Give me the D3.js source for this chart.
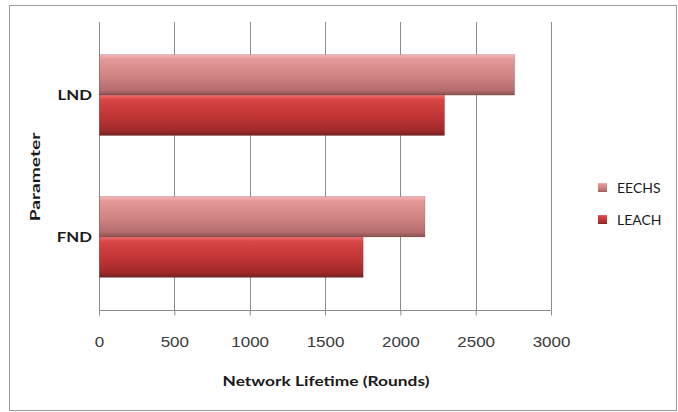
<!DOCTYPE html>
<html>
<head>
<meta charset="utf-8">
<script src="https://cdn.jsdelivr.net/npm/d3@7"></script>
<style>
	body { margin: 0; background: #fff; }
	svg { font-family: Lato, "Open Sans", sans-serif; }
	.grid line { stroke: #8c8c8c; stroke-width: 1; }
	.axis path, .axis line { stroke: #8c8c8c; }
	.axis text { fill: #3a3a3a; font-size: 14.5px; }
</style>
</head>
<body>
<div id="chart"></div>
<script>
let categories	= ["LND", "FND"];
let seriesNames	= ["EECHS", "LEACH"];
let eechs		= [2755, 2160];
let leach		= [2290, 1750];
let xTicks		= [0, 500, 1000, 1500, 2000, 2500, 3000];

let canvasWidth		= 678;
let canvasHeight	= 412;
let margin			= { top: 22, right: 127, bottom: 102, left: 99 };
let width			= canvasWidth - margin.left - margin.right;
let height			= canvasHeight - margin.top - margin.bottom;

let data = categories.map((c, i) => ({ cat: c, values: [eechs[i], leach[i]] }));

let x	= d3.scaleLinear().range([0, width]).domain([0, 3000]);
let y	= d3.scaleBand().range([0, height]).domain(categories).paddingInner(0.43).paddingOuter(0.23);
let ys	= d3.scaleBand().range([0, y.bandwidth()]).domain(seriesNames);

let root = d3.select("#chart").append("svg")
	.attr("width", canvasWidth)
	.attr("height", canvasHeight);

// gradients for the bevelled bars
let defs = root.append("defs");
let gradStops = {
	EECHS: [["0%", "#f6b4b4"], ["12%", "#e49898"], ["55%", "#cf8282"], ["88%", "#b56d6d"], ["100%", "#8a5050"]],
	LEACH: [["0%", "#f07070"], ["12%", "#d84444"], ["55%", "#c03434"], ["88%", "#a02a2a"], ["100%", "#722020"]]
};
seriesNames.forEach((s) => {
	let g = defs.append("linearGradient").attr("id", "grad-" + s).attr("x1", 0).attr("y1", 0).attr("x2", 0).attr("y2", 1);
	gradStops[s].forEach((st) => g.append("stop").attr("offset", st[0]).attr("stop-color", st[1]));
});

root.append("rect")
	.attr("x", 9.5).attr("y", 5.5)
	.attr("width", canvasWidth - 11).attr("height", canvasHeight - 7)
	.attr("fill", "none").attr("stroke", "#9a9a9a");

let svg = root.append("g")
	.attr("transform", "translate(" + margin.left + "," + margin.top + ")");

svg.append("g")
	.attr("class", "grid")
	.selectAll("line")
	.data(xTicks)
	.enter().append("line")
		.attr("x1", (o) => Math.round(x(o)) + 0.5)
		.attr("x2", (o) => Math.round(x(o)) + 0.5)
		.attr("y1", 0)
		.attr("y2", height);

let xAxis = svg.append("g")
	.attr("class", "x axis")
	.attr("transform", "translate(0," + (height + 0.5) + ")")
	.call(d3.axisBottom(x).tickValues(xTicks).tickSize(5).tickSizeOuter(0).tickPadding(21).tickFormat(d3.format("d")));
xAxis.select(".domain").attr("d", "M0.5,0H" + (width + 0.5));
// the picture's glyphs are a bit wider than the font's
xAxis.selectAll(".tick text").attr("transform", "scale(1.17,1)");

let groups = svg.selectAll(".cat")
	.data(data)
	.enter().append("g")
		.attr("class", "cat")
		.attr("transform", (o) => "translate(0," + y(o.cat) + ")");

groups.selectAll("rect")
	.data((o) => o.values.map((v, i) => ({ s: seriesNames[i], v: v })))
	.enter().append("rect")
		.attr("x", 0.5)
		.attr("y", (o) => ys(o.s))
		.attr("width", (o) => x(o.v))
		.attr("height", ys.bandwidth())
		.attr("fill", (o) => "url(#grad-" + o.s + ")")
		.attr("stroke", "rgba(90,40,40,0.35)")
		.attr("stroke-width", 0.6);

svg.selectAll(".cat-label")
	.data(categories)
	.enter().append("text")
		.attr("class", "cat-label")
		.attr("transform", (o) => "translate(-7," + (y(o) + y.bandwidth() / 2) + ") scale(1.2,1)")
		.attr("dy", "0.35em")
		.attr("text-anchor", "end")
		.attr("font-weight", "bold")
		.attr("font-size", "14px")
		.attr("fill", "#1a1a1a")
		.text((o) => o);

svg.append("text")
	.attr("transform", "translate(" + (width / 2 + 1) + "," + (height + 76) + ") scale(1.24,1)")
	.attr("text-anchor", "middle")
	.attr("font-weight", "bold")
	.attr("font-size", "14px")
	.attr("fill", "#1a1a1a")
	.text("Network Lifetime (Rounds)");

svg.append("text")
	.attr("transform", "translate(" + (-59) + "," + (height / 2 + 11) + ") rotate(-90) scale(1.37,1)")
	.attr("text-anchor", "middle")
	.attr("font-weight", "bold")
	.attr("font-size", "14px")
	.attr("fill", "#1a1a1a")
	.text("Parameter");

let legend = root.append("g")
	.attr("transform", "translate(598,183)");

legend.selectAll("rect")
	.data(seriesNames)
	.enter().append("rect")
		.attr("x", 0)
		.attr("y", (o, i) => i * 32)
		.attr("width", 9)
		.attr("height", 9)
		.attr("fill", (o) => "url(#grad-" + o + ")");

legend.selectAll("text")
	.data(seriesNames)
	.enter().append("text")
		.attr("x", 19)
		.attr("y", (o, i) => i * 32 + 5)
		.attr("dy", "0.35em")
		.attr("font-size", "14px")
		.attr("fill", "#1a1a1a")
		.text((o) => o);
</script>
</body>
</html>
